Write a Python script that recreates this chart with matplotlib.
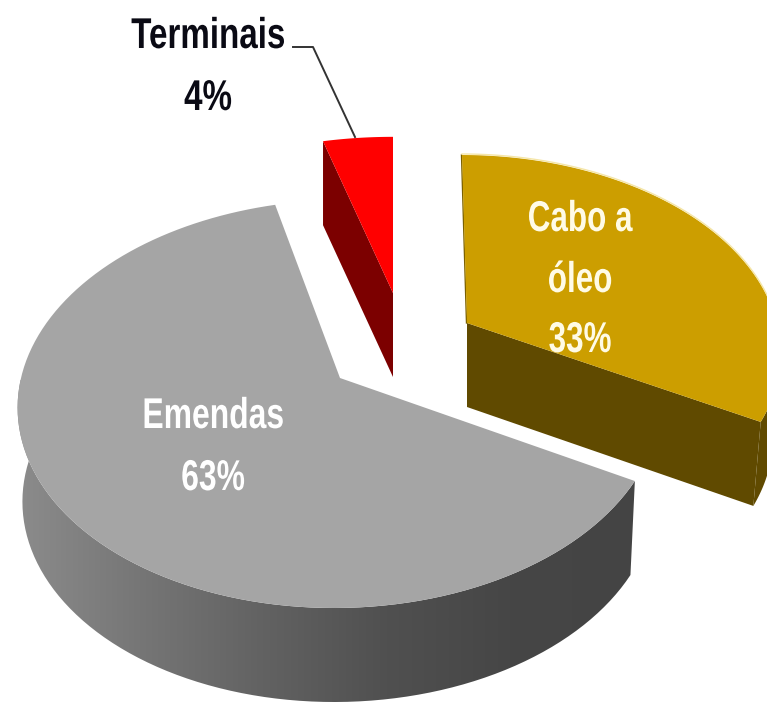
import numpy as np
import matplotlib.pyplot as plt
from matplotlib.patches import Polygon, PathPatch
from matplotlib.path import Path
from matplotlib.colors import LinearSegmentedColormap
from matplotlib.patheffects import AbstractPathEffect
from matplotlib.transforms import Affine2D

labels = ['Cabo a\nóleo', 'Emendas', 'Terminais']
values = [33, 63, 4]
top_colors = ['#cc9e00', '#a5a5a5', '#ff0000']
face_colors = ['#604a00', '#555555', '#7c0000']
wall_colors = ['#604a00', None, '#7c0000']
gray_wall = ['#8c8c8c', '#767676', '#626262', '#505050', '#464646', '#444444']

# each slice is pulled out of the pie: apex px, radii, perspective, depth, shear, taper of lower rim
apex = [(467, 323), (340, 378), (393, 293)]
radius_x = [310, 319, 316]
radius_y = [191.5, 200.8, 176]
persp = [0.14, 0.127, 0.127]
depth = [84, 94, 84]
shear = [-5, 6, 0]
taper = [0.975, 0.985, 1.0]


def rim(i, a, b, n=120):
    t = np.radians(np.linspace(a, b, n))
    u, v = np.sin(t), np.cos(t)
    s = 1 / (1 + persp[i] * v)
    x = apex[i][0] + radius_x[i] * u * s + shear[i] * v
    y = apex[i][1] - radius_y[i] * v * s
    return np.column_stack([x, y])


def lower(i, pts):
    out = pts + np.array([0, depth[i]])
    out[:, 0] = apex[i][0] + (out[:, 0] - apex[i][0]) * taper[i]
    return out


# squeezes a text sideways, no narrow bold font is installed
class Squeeze(AbstractPathEffect):
    def __init__(self, cx, sx):
        super().__init__()
        self.cx = cx
        self.sx = sx

    def draw_path(self, renderer, gc, tpath, affine, rgbFace=None):
        sq = Affine2D().translate(-self.cx, 0).scale(self.sx, 1).translate(self.cx, 0)
        renderer.draw_path(gc, tpath, affine + sq, rgbFace)


fig = plt.figure(figsize=(7.67, 7.02), dpi=100)
ax = fig.add_axes([0, 0, 1, 1])
ax.set_xlim(0, 767)
ax.set_ylim(702, 0)
ax.axis('off')

angles = np.cumsum([0] + values) * 3.6

for i in [2, 1, 0]:
    a, b = angles[i], angles[i + 1]
    ap = np.array(apex[i], dtype=float)
    ap_low = lower(i, ap.reshape(1, 2))[0]
    arc = rim(i, a, b)

    # outer wall, only the front half of the rim shows
    lo, hi = max(a, 90), min(b, 270)
    if lo < hi:
        wall = rim(i, lo, hi)
        pts = np.vstack([wall, lower(i, wall)[::-1]])
        if labels[i] == 'Emendas':
            # also take the left bit, top surface covers the rest
            wall = rim(i, lo, b)
            pts = np.vstack([wall, lower(i, wall)[::-1]])
            cmap = LinearSegmentedColormap.from_list('wall', gray_wall)
            img = ax.imshow(np.linspace(0, 1, 256).reshape(1, -1), cmap=cmap, aspect='auto',
                            extent=[15, 635, 702, 380], zorder=1)
            clip = PathPatch(Path(pts), transform=ax.transData, fc='none', ec='none')
            ax.add_patch(clip)
            img.set_clip_path(clip)
        else:
            ax.add_patch(Polygon(pts, fc=wall_colors[i], ec='none', zorder=1))

    # cut faces
    if labels[i] == 'Cabo a\nóleo':
        p = arc[-1]
        p_low = lower(i, p.reshape(1, 2))[0]
        ax.add_patch(Polygon([ap, p, p_low, ap_low], fc=face_colors[i], ec='none', zorder=1))
        q = arc[0]
        ax.plot([q[0] - 0.5, ap[0] - 0.5], [q[1], ap[1]], color='#7a6000', lw=1, zorder=1)
    if labels[i] == 'Terminais':
        p = arc[0]
        p_low = lower(i, p.reshape(1, 2))[0]
        ax.add_patch(Polygon([ap, p, p_low, ap_low], fc=face_colors[i], ec='none', zorder=1))

    ax.add_patch(Polygon(np.vstack([ap, arc]), fc=top_colors[i], ec='none', zorder=2))

# lighter rim on the gold slice
gold = rim(0, 0, 100)
ax.plot(gold[:, 0], gold[:, 1] - 1, color='#f5e6a8', lw=1.0, zorder=2)

font = ['Liberation Sans', 'DejaVu Sans']


def label(x, y, txt, color, sx):
    cx = ax.transData.transform((x, y))[0]
    ax.text(x, y, txt, color=color, fontsize=31, fontweight='bold', family=font,
            ha='center', va='baseline', zorder=3, path_effects=[Squeeze(cx, sx)])


label(580, 231, 'Cabo a', '#fffbe6', 0.73)
label(580, 292, 'óleo', '#fffbe6', 0.73)
label(580, 352, f'{values[0]}%', '#fffbe6', 0.73)
label(213, 428, labels[1], 'white', 0.74)
label(213, 490, f'{values[1]}%', 'white', 0.74)
label(208, 48, labels[2], '#0a0a14', 0.77)
label(208, 110, f'{values[2]}%', '#0a0a14', 0.77)

# leader line
ax.plot([293, 313, 355], [47, 47, 137], color='#333333', lw=1.4, zorder=3)

fig.savefig('out.png', dpi=100)
